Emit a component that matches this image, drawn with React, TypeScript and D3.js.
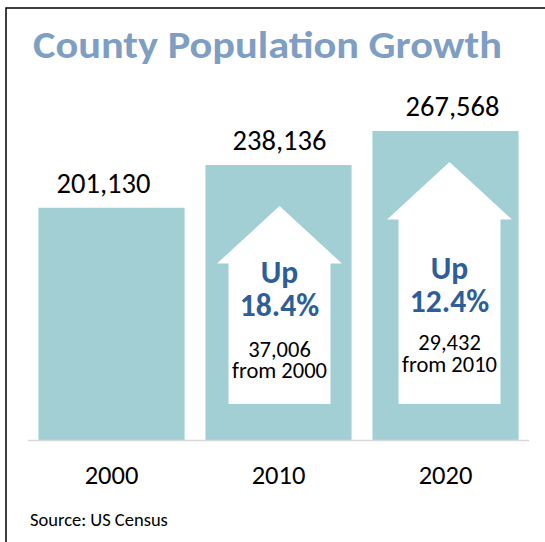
import React from "react";
import * as d3 from "d3";

const years = ["2000", "2010", "2020"];
const population = [201130, 238136, 267568];
const changePct = [null, 18.4, 12.4];
const changeAbs = [null, 37006, 29432];
const changeFrom = [null, "2000", "2010"];
const title = "County Population Growth";
const source = "Source: US Census";

const W = 545;
const H = 542;
const FONT = "Carlito, Calibri, Lato, 'Open Sans', sans-serif";

export default function App() {
  const x = d3.scaleBand<string>().domain(years).range([28, 529]).paddingInner(0.125).paddingOuter(0.0625);
  const y = d3.scaleLinear().domain([0, 300000]).range([440, 93.6]);
  const bw = x.bandwidth();
  const fmt = d3.format(",");
  const labelDx = [-8, 1, 7];
  const arrowDx = [0, 1, 4];
  const tipGap = [0, 41, 31];
  const textBase = [[], [283, 316, 357, 378], [279, 312, 350, 372]];

  return (
    <svg width={W} height={H} style={{ position: "absolute", left: 0, top: 0, background: "#fff" }}>
      <rect x={6} y={8} width={W + 10} height={H + 10} fill="#fff" stroke="#000" strokeWidth={1.5} />
      <text x={33} y={58} fontFamily={FONT} fontWeight={700} fontSize={38} fill="#7F9EC3" textLength={469} lengthAdjust="spacingAndGlyphs">
        {title}
      </text>
      {years.map((yr, i) => {
        const bx = x(yr)!;
        const top = y(population[i]);
        return (
          <g key={yr}>
            <rect x={bx} y={top} width={bw} height={y(0) - top} fill="#A1CFD3" />
            <text x={bx + bw / 2 + labelDx[i]} y={top - 15} textAnchor="middle" fontFamily={FONT} fontSize={28.5} fill="#000">
              {fmt(population[i])}
            </text>
            <text x={bx + bw / 2} y={484} textAnchor="middle" fontFamily={FONT} fontSize={26.5} fill="#000">
              {yr}
            </text>
          </g>
        );
      })}
      {years.map((yr, i) => {
        if (changePct[i] == null) return null;
        const cx = x(yr)! + bw / 2 + arrowDx[i];
        const tip = y(population[i]) + tipGap[i];
        const headBase = tip + 57.5;
        const bottom = y(0) - 36;
        const path = d3.path();
        path.moveTo(cx, tip);
        path.lineTo(cx + 62.5, headBase);
        path.lineTo(cx + 51, headBase);
        path.lineTo(cx + 51, bottom);
        path.lineTo(cx - 51, bottom);
        path.lineTo(cx - 51, headBase);
        path.lineTo(cx - 62.5, headBase);
        path.closePath();
        const tb = textBase[i];
        return (
          <g key={"a" + yr}>
            <path d={path.toString()} fill="#fff" />
            <text x={cx} y={tb[0]} textAnchor="middle" fontFamily={FONT} fontWeight={700} fontSize={31.5} fill="#2E5E97">
              Up
            </text>
            <text x={cx} y={tb[1]} textAnchor="middle" fontFamily={FONT} fontWeight={700} fontSize={31.5} fill="#2E5E97">
              {changePct[i]!.toFixed(1) + "%"}
            </text>
            <text x={cx} y={tb[2]} textAnchor="middle" fontFamily={FONT} fontSize={22.5} fill="#000">
              {fmt(changeAbs[i]!)}
            </text>
            <text x={cx} y={tb[3]} textAnchor="middle" fontFamily={FONT} fontSize={22.5} fill="#000">
              {"from " + changeFrom[i]}
            </text>
          </g>
        );
      })}
      <line x1={28} x2={529} y1={440.5} y2={440.5} stroke="#D9D9D9" strokeWidth={1.5} />
      <text x={30} y={526} fontFamily={FONT} fontSize={18.5} fill="#000">
        {source}
      </text>
    </svg>
  );
}
